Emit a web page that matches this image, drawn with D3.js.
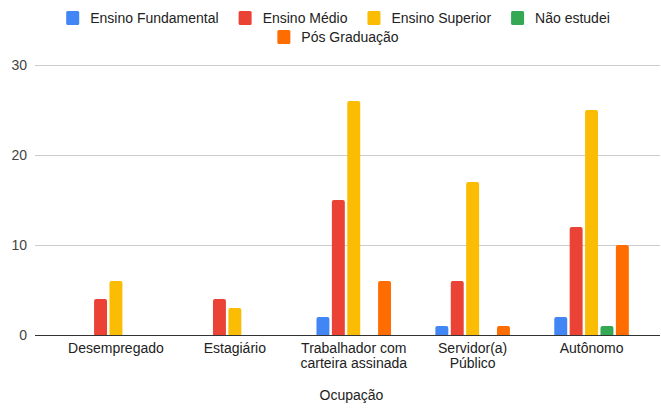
<!DOCTYPE html>
<html>
<head>
<meta charset="utf-8">
<script src="https://cdn.jsdelivr.net/npm/d3@7/dist/d3.min.js"></script>
<style>
  html, body { margin: 0; padding: 0; background: #fff; }
  svg { display: block; font-family: "Liberation Sans", Arial, sans-serif; }
</style>
</head>
<body>
<svg id="chart" width="661" height="408"></svg>
<script>
// Respondents by occupation and education level
const categories = ["Desempregado", "Estagiário", "Trabalhador com carteira assinada", "Servidor(a) Público", "Autônomo"];
const seriesNames = ["Ensino Fundamental", "Ensino Médio", "Ensino Superior", "Não estudei", "Pós Graduação"];
const seriesColors = ["#4285F4", "#EA4335", "#FBBC04", "#34A853", "#FF6D01"];
const ensinoFundamental = [0, 0, 2, 1, 2];
const ensinoMedio       = [4, 4, 15, 6, 12];
const ensinoSuperior    = [6, 3, 26, 17, 25];
const naoEstudei        = [0, 0, 0, 0, 1];
const posGraduacao      = [0, 0, 6, 1, 10];
const yTicks = [0, 10, 20, 30];
const xTitle = "Ocupação";

const seriesValues = [ensinoFundamental, ensinoMedio, ensinoSuperior, naoEstudei, posGraduacao];

const svg = d3.select("#chart");
const plot = { left: 35, right: 660, top: 65, bottom: 335 };
const textColor = "#222";

const y = d3.scaleLinear().domain([0, 30]).range([plot.bottom, plot.top]);

const x0 = d3.scaleBand()
  .domain(categories)
  .range([56.5, 651])
  .paddingInner(0.373)
  .paddingOuter(0.1865);

const x1 = d3.scaleBand()
  .domain(seriesNames)
  .range([0, x0.bandwidth()])
  .paddingInner(0.16)
  .paddingOuter(0);

// Gridlines and value labels
const grid = svg.append("g");
yTicks.forEach(t => {
  grid.append("line")
    .attr("x1", plot.left).attr("x2", plot.right)
    .attr("y1", Math.round(y(t)) + 0.5).attr("y2", Math.round(y(t)) + 0.5)
    .attr("stroke", t === 0 ? "#333" : "#ccc")
    .attr("stroke-width", 1);
  grid.append("text")
    .attr("x", 27).attr("y", y(t))
    .attr("dy", "0.35em")
    .attr("text-anchor", "end")
    .attr("font-size", 14)
    .attr("fill", "#444")
    .text(t);
});

// Bars with slightly rounded tops
function topRoundedBar(x, yTop, w, h, r) {
  r = Math.min(r, h, w / 2);
  return `M${x},${yTop + h}V${yTop + r}Q${x},${yTop} ${x + r},${yTop}` +
         `H${x + w - r}Q${x + w},${yTop} ${x + w},${yTop + r}V${yTop + h}Z`;
}

const barData = [];
categories.forEach((c, ci) => {
  seriesNames.forEach((s, si) => {
    barData.push({ category: c, series: s, value: seriesValues[si][ci], color: seriesColors[si] });
  });
});

svg.append("g").selectAll("path")
  .data(barData.filter(d => d.value > 0))
  .join("path")
  .attr("fill", d => d.color)
  .attr("d", d => {
    const bx = x0(d.category) + x1(d.series);
    const top = y(d.value);
    return topRoundedBar(bx, top, x1.bandwidth(), y(0) - top, 2);
  });

// Redraw the baseline above the bars
svg.append("line")
  .attr("x1", plot.left).attr("x2", plot.right)
  .attr("y1", Math.round(y(0)) + 0.5).attr("y2", Math.round(y(0)) + 0.5)
  .attr("stroke", "#333");

// Category labels, wrapped to fit the band
const xAxis = svg.append("g");
categories.forEach(c => {
  const cx = x0(c) + x0.bandwidth() / 2;
  const t = xAxis.append("text")
    .attr("x", cx).attr("y", 353)
    .attr("text-anchor", "middle")
    .attr("font-size", 14)
    .attr("fill", textColor);
  const words = c.split(" ");
  let lines = [], line = [];
  const probe = t.append("tspan");
  words.forEach(w => {
    const trial = line.concat(w).join(" ");
    probe.text(trial);
    if (probe.node().getComputedTextLength() > 112 && line.length) {
      lines.push(line.join(" "));
      line = [w];
    } else {
      line.push(w);
    }
  });
  lines.push(line.join(" "));
  probe.remove();
  lines.forEach((l, i) => {
    t.append("tspan").attr("x", cx).attr("dy", i === 0 ? 0 : 14.5).text(l);
  });
});

// Axis title
svg.append("text")
  .attr("x", 351.5).attr("y", 400)
  .attr("text-anchor", "middle")
  .attr("font-size", 14)
  .attr("fill", textColor)
  .text(xTitle);

// Legend, flowed into centered rows
const legend = svg.append("g");
const swatch = 13, swGap = 11, itemGap = 20, maxRow = 560, legendCx = 338;
const items = seriesNames.map((name, i) => {
  const g = legend.append("g");
  g.append("rect").attr("width", swatch).attr("height", 14).attr("rx", 1.5).attr("fill", seriesColors[i]);
  const txt = g.append("text")
    .attr("x", swatch + swGap).attr("y", 11.5)
    .attr("font-size", 14).attr("fill", textColor)
    .text(name);
  return { g, w: swatch + swGap + txt.node().getComputedTextLength() };
});
const rows = [];
let cur = [], curW = 0;
items.forEach(it => {
  const add = cur.length ? itemGap + it.w : it.w;
  if (cur.length && curW + add > maxRow) {
    rows.push({ items: cur, w: curW });
    cur = [it]; curW = it.w;
  } else {
    cur.push(it); curW += add;
  }
});
rows.push({ items: cur, w: curW });
rows.forEach((row, ri) => {
  let xPos = legendCx - row.w / 2;
  row.items.forEach(it => {
    it.g.attr("transform", `translate(${xPos},${11 + ri * 19})`);
    xPos += it.w + itemGap;
  });
});
</script>
</body>
</html>
